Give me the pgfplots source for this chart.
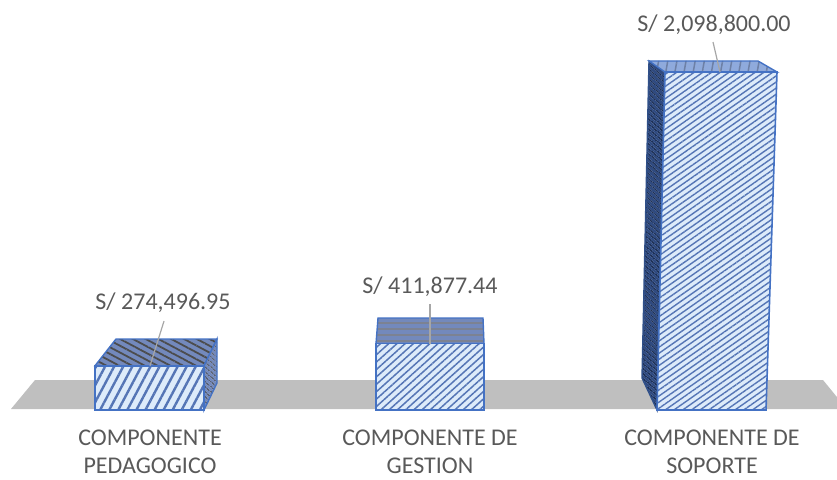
\documentclass[border=0pt]{standalone}
\usepackage{pgfplots}
\pgfplotsset{compat=1.18}
\usepackage{fontspec}
\setmainfont{Carlito}
\usetikzlibrary{patterns.meta}
\definecolor{edgeblue}{HTML}{4472C4}
\definecolor{lightfill}{HTML}{DDEBFA}
\definecolor{hatchblue}{HTML}{5575B5}
\definecolor{topfill}{HTML}{7389BC}
\definecolor{sidefill}{HTML}{2F4A80}
\definecolor{floorgray}{HTML}{BFBFBF}
\definecolor{labelgray}{HTML}{595959}
\definecolor{leader}{HTML}{A6A6A6}
\tikzset{
 fronta/.style={pattern={Lines[angle=62,distance=8pt,line width=2.4pt]},pattern color=hatchblue},
 frontb/.style={pattern={Lines[angle=42,distance=5.5pt,line width=1.5pt]},pattern color=hatchblue},
 frontc/.style={pattern={Lines[angle=35,distance=5pt,line width=1.4pt]},pattern color=hatchblue},
 topface/.style={pattern={Lines[angle=-28,distance=6pt,line width=1.8pt]},pattern color=black!40!gray},
 topfaceb/.style={pattern={Lines[angle=0,distance=6pt,line width=1.2pt]},pattern color=gray!70!topfill},
 topfacec/.style={pattern={Lines[angle=80,distance=9pt,line width=1.5pt]},pattern color=sidefill!70},
 sideface/.style={pattern={Lines[angle=-40,distance=4pt,line width=1.4pt]},pattern color=black!40!gray},
 sidefacec/.style={pattern={Lines[angle=-40,distance=4pt,line width=1.4pt]},pattern color=sidefill!50!black},
}
\begin{document}
\begin{tikzpicture}
\useasboundingbox (0,-69pt) rectangle (837pt,410pt);
\begin{axis}[
  scale only axis, width=837pt, height=410pt,
  xmin=0, xmax=837, ymin=0, ymax=2545895,
  clip=false,
  axis line style={draw=none}, tick style={draw=none},
  ytick=\empty,
  xtick={150,430,712},
  xticklabels={COMPONENTE\\PEDAGOGICO,COMPONENTE DE\\GESTION,COMPONENTE DE\\SOPORTE},
  xticklabel style={align=center,inner sep=0pt,font=\fontsize{24}{28}\selectfont,text=labelgray,yshift=-20pt},
]
% floor
\addplot[fill=floorgray,draw=none] coordinates {(11,6210)(35,186285)(823,186285)(837,80000)(837,6210)} -- cycle;

% bar 1 : 274496.95
\addplot[fill=topfill,draw=none] coordinates {(95,274497)(116,440875)(217,440875)(204,274497)} -- cycle;
\addplot[topface,draw=edgeblue,line width=1.4pt] coordinates {(95,274497)(116,440875)(217,440875)(204,274497)} -- cycle;
\addplot[fill=topfill,draw=none] coordinates {(204,274497)(217,440875)(217,167657)(204,0)} -- cycle;
\addplot[sideface,draw=edgeblue,line width=1.4pt] coordinates {(204,274497)(217,440875)(217,167657)(204,0)} -- cycle;
\addplot[fill=lightfill,draw=none] coordinates {(95,0)(95,274496.95)(204,274496.95)(204,0)} -- cycle;
\addplot[fronta,draw=edgeblue,line width=1.6pt] coordinates {(95,0)(95,274496.95)(204,274496.95)(204,0)} -- cycle;

% bar 2 : 411877.44
\addplot[fill=topfill,draw=none] coordinates {(376,411877)(378,571274)(483,571274)(484,411877)} -- cycle;
\addplot[topfaceb,draw=edgeblue,line width=1.4pt] coordinates {(376,411877)(378,571274)(483,571274)(484,411877)} -- cycle;
\addplot[fill=lightfill,draw=none] coordinates {(376,0)(376,411877.44)(484,411877.44)(484,0)} -- cycle;
\addplot[frontb,draw=edgeblue,line width=1.6pt] coordinates {(376,0)(376,411877.44)(484,411877.44)(484,0)} -- cycle;

% bar 3 : 2098800
\addplot[fill=sidefill,draw=none] coordinates {(649,2167116)(665,2098800)(657,0)(642,198704)} -- cycle;
\addplot[sidefacec,draw=edgeblue!70!black,line width=1.4pt] coordinates {(649,2167116)(665,2098800)(657,0)(642,198704)} -- cycle;
\addplot[fill=edgeblue!60,draw=none] coordinates {(649,2167116)(758,2167116)(777,2098800)(665,2098800)} -- cycle;
\addplot[topfacec,draw=edgeblue,line width=1.4pt] coordinates {(649,2167116)(758,2167116)(777,2098800)(665,2098800)} -- cycle;
\addplot[fill=lightfill,draw=none] coordinates {(657,0)(665,2098800)(777,2098800)(766,0)} -- cycle;
\addplot[frontc,draw=edgeblue,line width=1.6pt] coordinates {(657,0)(665,2098800)(777,2098800)(766,0)} -- cycle;

% leader lines
\addplot[leader,line width=1.2pt] coordinates {(164,552000)(150,274497)};
\addplot[leader,line width=1.2pt] coordinates {(430,658000)(430,411877)};
\addplot[leader,line width=1.2pt] coordinates {(713,2285000)(720,2098800)};

% data labels
\node[text=labelgray,font=\fontsize{24}{28}\selectfont] at (axis cs:163,664000) {S/ 274,496.95};
\node[text=labelgray,font=\fontsize{24}{28}\selectfont] at (axis cs:430,763000) {S/ 411,877.44};
\node[text=labelgray,font=\fontsize{24}{28}\selectfont] at (axis cs:714,2390000) {S/ 2,098,800.00};
\end{axis}
\end{tikzpicture}
\end{document}
